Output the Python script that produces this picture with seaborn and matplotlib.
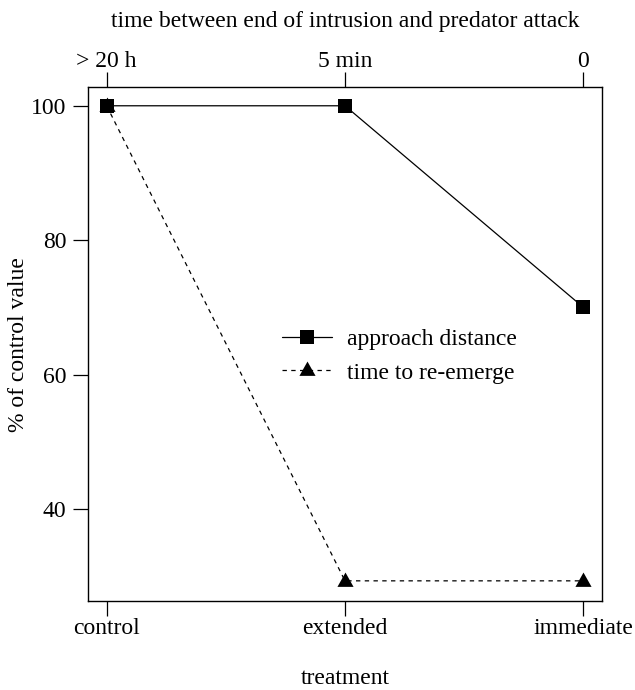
import matplotlib
matplotlib.use("Agg")
import matplotlib.pyplot as plt
import seaborn as sns
import pandas as pd
from matplotlib.lines import Line2D

treatments = ["control", "extended", "immediate"]
time_labels = ["> 20 h", "5 min", "0"]
approach_distance = [100, 100, 70]
time_to_reemerge = [100, 29.3, 29.3]
series_names = ["approach distance", "time to re-emerge"]

sns.set_theme(style="white")
plt.rcParams["font.family"] = ["Liberation Serif", "DejaVu Serif"]
plt.rcParams["text.color"] = "black"
plt.rcParams["axes.labelcolor"] = "black"
plt.rcParams["xtick.color"] = "black"
plt.rcParams["ytick.color"] = "black"
FS = 17

# R-like filled triangle (centred near its centroid)
tri = [(0, 1.0), (-0.9, -0.6), (0.9, -0.6), (0, 1.0)]

pos = list(range(len(treatments)))
df = pd.DataFrame({
    "pos": pos * 2,
    "value": time_to_reemerge + approach_distance,
    "series": [series_names[1]] * 3 + [series_names[0]] * 3,
})

fig = plt.figure(figsize=(6.35, 6.9), dpi=100)
ax = fig.add_axes([88.3/635, (690-601)/690, 513.4/635, 513.7/690])

sns.lineplot(data=df[df.series == series_names[1]], x="pos", y="value",
             color="black", linewidth=0.9, dashes=False, ax=ax, sort=False,
             marker=tri, markersize=12.9, markeredgewidth=0, legend=False)
ax.lines[-1].set_linestyle((0, (3.5, 3.5)))
sns.lineplot(data=df[df.series == series_names[0]], x="pos", y="value",
             color="black", linewidth=0.9, ax=ax, sort=False,
             marker="s", markersize=10, markeredgewidth=0, legend=False)

ax.set_xlim(-0.077, 2.077)
ax.set_ylim(26.3, 102.75)
ax.set_xticks(pos)
ax.set_xticklabels(treatments)
ax.set_yticks([40, 60, 80, 100])
ax.set_xlabel("treatment", fontsize=FS, va="center", color="black")
ax.xaxis.set_label_coords(0.5, -0.1499)
ax.set_ylabel("% of control value", fontsize=FS, va="center", color="black")
ax.yaxis.set_label_coords(-0.135, 0.5)
for s in ax.spines.values():
    s.set_visible(True)
    s.set_color("black")
    s.set_linewidth(1.0)
ax.tick_params(axis="x", direction="out", length=10.8, width=0.9,
               color="black", labelsize=FS, pad=1.5, bottom=True,
               labelcolor="black")
ax.tick_params(axis="y", direction="out", length=10.8, width=0.9,
               color="black", labelsize=FS, pad=5, left=True,
               labelcolor="black")

ax2 = ax.twiny()
ax2.set_xlim(ax.get_xlim())
ax2.set_xticks(pos)
ax2.set_xticklabels(time_labels)
ax2.set_xlabel("time between end of intrusion and predator attack",
               fontsize=FS, va="center", color="black")
ax2.xaxis.set_label_coords(0.5, 1.129)
ax2.tick_params(axis="x", direction="out", length=10.8, width=0.9,
                color="black", labelsize=FS, pad=0, top=True,
                labelcolor="black")
for s in ax2.spines.values():
    s.set_visible(False)

handles = [
    Line2D([], [], color="black", linestyle="-", linewidth=0.9, marker="s",
           markersize=10, markeredgewidth=0),
    Line2D([], [], color="black", linestyle=(0, (3.5, 3.5)), linewidth=0.9,
           marker=tri, markersize=12.9, markeredgewidth=0),
]
leg = ax.legend(handles, series_names, loc="center left",
                bbox_to_anchor=(0.378, 0.4766), frameon=False, fontsize=FS,
                handlelength=2.1, handletextpad=0.62, labelspacing=0.5,
                borderpad=0, borderaxespad=0)
for t in leg.get_texts():
    t.set_color("black")

fig.savefig("out.png", dpi=100)
